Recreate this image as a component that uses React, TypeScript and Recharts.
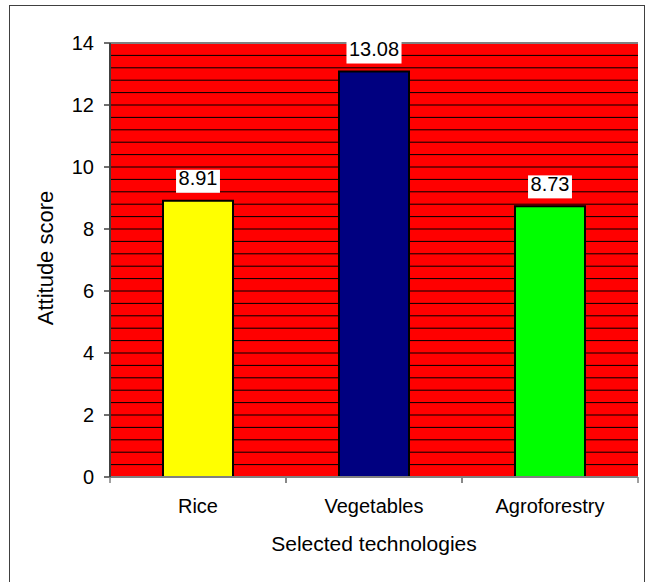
import React from 'react';
import { BarChart, Bar, XAxis, YAxis, CartesianGrid, Cell, LabelList, ReferenceLine } from 'recharts';

const categories = ['Rice', 'Vegetables', 'Agroforestry'];
const scores = [8.91, 13.08, 8.73];
const barColors = ['#FFFF00', '#000080', '#00FF00'];
const yTicks = [0, 2, 4, 6, 8, 10, 12, 14];
const gridStep = 0.4;

const data = categories.map((name, i) => ({ name, score: scores[i] }));
const gridValues: number[] = [];
for (let v = gridStep; v < 14 - 1e-6; v += gridStep) gridValues.push(Math.round(v * 10) / 10);

const FONT = '"Liberation Sans", Arial, sans-serif';

const CatTick = (props: any) => {
  const { x, y, payload } = props;
  const half = payload && typeof payload.offset === 'number' && payload.offset > 0 ? payload.offset : 88;
  return (
    <g>
      <line x1={x - half} x2={x - half} y1={y} y2={y + 6} stroke="#808080" strokeWidth={1.5} />
      <line x1={x + half} x2={x + half} y1={y} y2={y + 6} stroke="#808080" strokeWidth={1.5} />
      <text x={x} y={y + 36} textAnchor="middle" fontSize={20} fill="#000" fontFamily={FONT}>
        {payload.value}
      </text>
    </g>
  );
};

const ValueLabel = (props: any) => {
  const { x, y, width, value } = props;
  const cx = x + width / 2;
  const s = String(value);
  const digits = s.replace(/[^0-9]/g, '').length;
  const dots = s.length - digits;
  const w = digits * 11.12 + dots * 5.56 + 5;
  return (
    <g>
      <rect x={cx - w / 2} y={y - 31} width={w} height={23} fill="#FFFFFF" />
      <text x={cx} y={y - 15.5} textAnchor="middle" fontSize={20} fill="#000" fontFamily={FONT}>
        {s}
      </text>
    </g>
  );
};

const YTitle = () => (
  <text x={53} y={258} textAnchor="middle" fontSize={22} fill="#000" fontFamily={FONT} transform="rotate(-90, 53, 258)">
    Attitude score
  </text>
);

const XTitle = () => (
  <text x={374} y={551} textAnchor="middle" fontSize={21} fill="#000" fontFamily={FONT}>
    Selected technologies
  </text>
);

export default function App() {
  return (
    <div style={{ position: 'fixed', left: 0, top: 0, width: 648, height: 582, overflow: 'hidden', background: '#fff' }}>
      <div
        style={{
          position: 'absolute',
          left: 9,
          top: 5,
          width: 636,
          height: 640,
          border: '1.5px solid #404040',
          boxSizing: 'border-box',
        }}
      />
      <div style={{ position: 'absolute', left: 0, top: 0 }}>
        <BarChart width={648} height={582} data={data} margin={{ top: 43, right: 10, bottom: 0, left: 0 }}>
          <CartesianGrid
            vertical={false}
            horizontalValues={gridValues}
            stroke="#000"
            strokeWidth={1}
            fill="#FF0000"
            fillOpacity={1}
          />
          <XAxis
            dataKey="name"
            height={105}
            tickLine={false}
            tickSize={0}
            tickMargin={0}
            axisLine={{ stroke: '#808080', strokeWidth: 2 }}
            tick={<CatTick />}
            interval={0}
            label={<XTitle />}
          />
          <YAxis
            width={110}
            domain={[0, 14]}
            ticks={yTicks}
            interval={0}
            tickSize={6}
            tickMargin={10}
            tickLine={{ stroke: '#404040', strokeWidth: 1.5 }}
            axisLine={{ stroke: '#404040', strokeWidth: 2 }}
            tick={{ fontSize: 20, fill: '#000', fontFamily: FONT }}
            label={<YTitle />}
          />
          <YAxis
            yAxisId="right"
            orientation="right"
            width={0}
            domain={[0, 14]}
            tick={false}
            tickLine={false}
            axisLine={{ stroke: '#808080', strokeWidth: 2 }}
          />
          <ReferenceLine y={14} stroke="#808080" strokeWidth={2} />
          <Bar dataKey="score" barSize={70} stroke="#000" strokeWidth={2} isAnimationActive={false}>
            {data.map((d, i) => (
              <Cell key={d.name} fill={barColors[i]} />
            ))}
            <LabelList dataKey="score" content={<ValueLabel />} />
          </Bar>
        </BarChart>
      </div>
    </div>
  );
}
